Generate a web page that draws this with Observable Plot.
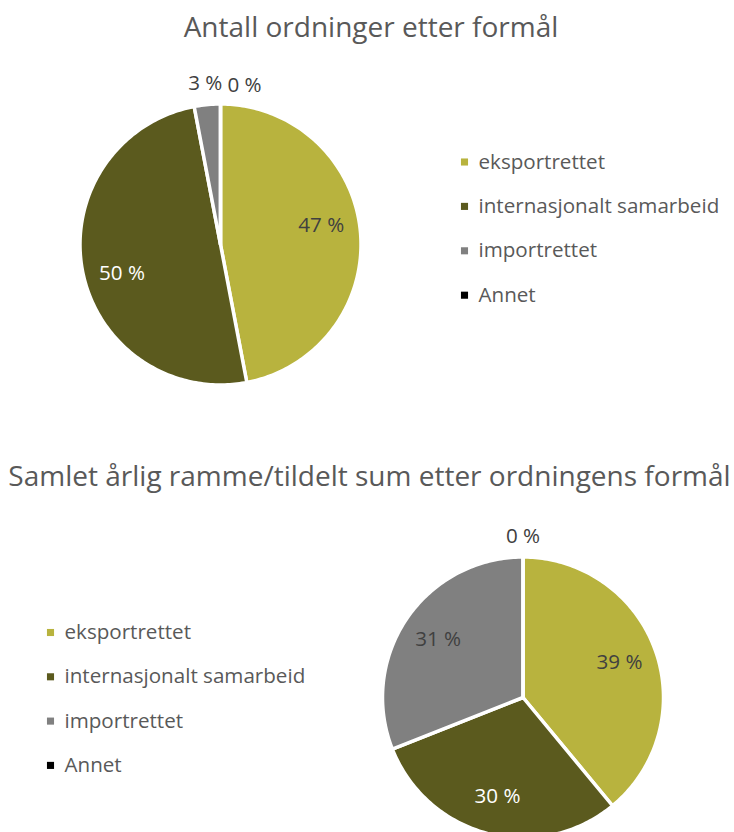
<!DOCTYPE html>
<html>
<head>
<meta charset="utf-8">
<script src="https://cdn.jsdelivr.net/npm/d3@7"></script>
<script src="https://cdn.jsdelivr.net/npm/@observablehq/plot@0.6"></script>
<style>
  html, body { margin: 0; padding: 0; background: #fff; }
  #page { position: relative; width: 734px; height: 832px; overflow: hidden; font-family: "Open Sans", sans-serif; }
  .title { position: absolute; left: 0; width: 734px; text-align: center; font-size: 28px; line-height: 1; color: #595959; white-space: nowrap; }
  .fig { position: absolute; left: 0; }
  .fig svg { display: block; }
</style>
</head>
<body>
<div id="page"></div>
<script>
// ---- data ----
const categories = ["eksportrettet", "internasjonalt samarbeid", "importrettet", "Annet"];
const antallShares = [47, 50, 3, 0];      // Antall ordninger etter formål (%)
const rammeShares = [39, 30, 31, 0];      // Samlet årlig ramme/tildelt sum (%)
const sliceColors = ["#B8B33E", "#5B5A1E", "#808080", "#000000"];
const chartTitles = [
  "Antall ordninger etter formål",
  "Samlet årlig ramme/tildelt sum etter ordningens formål"
];

const page = document.getElementById("page");

function addTitle(text, top, left) {
  const d = document.createElement("div");
  d.className = "title";
  d.textContent = text;
  d.style.top = top + "px";
  d.style.left = left + "px";
  page.appendChild(d);
}

function pieFigure(values, cfg) {
  const {W, H, cx, cy, r, legendX, legendY0, legendStep, angleShift, nudge} = cfg;
  const rows = categories.map((c, i) => ({cat: c, value: values[i]}));
  const arcs = d3.pie().sort(null).value(d => d.value)(rows);

  // slice outlines (center -> arc -> center), derived from the pie angles
  const poly = arcs.flatMap(a => {
    const span = a.endAngle - a.startAngle;
    const n = Math.max(1, Math.ceil(span / (Math.PI / 180)));
    const pts = [{cat: a.data.cat, x: cx, y: cy}];
    for (let k = 0; k <= n; k++) {
      const t = a.startAngle + span * k / n;
      pts.push({cat: a.data.cat, x: cx + r * Math.sin(t), y: cy - r * Math.cos(t)});
    }
    pts.push({cat: a.data.cat, x: cx, y: cy});
    return pts;
  });

  const labels = arcs.map((a, i) => {
    const pct = a.data.value;
    const inside = pct >= 5;
    const mid = (a.startAngle + a.endAngle) / 2 + (inside ? angleShift : 0);
    const dist = inside ? 0.73 * r : r + 21;
    const dark = d3.lab(sliceColors[i]).l < 50;
    return {
      cat: a.data.cat,
      x: cx + dist * Math.sin(mid),
      y: cy - dist * Math.cos(mid),
      text: `${Math.round(pct)} %`,
      inside,
      light: inside && dark
    };
  });

  const legend = categories.map((c, i) => ({cat: c, x: legendX, y: legendY0 + i * legendStep}));
  const fs = 20.6;

  return Plot.plot({
    width: W,
    height: H,
    margin: 0,
    x: {domain: [0, W], range: [0, W], axis: null},
    y: {domain: [0, H], range: [0, H], axis: null},
    color: {domain: categories, range: sliceColors},
    style: {fontFamily: "'Open Sans', sans-serif", fontSize: "20px", background: "white", overflow: "visible"},
    marks: [
      Plot.line(poly, {x: "x", y: "y", z: "cat", fill: "cat", stroke: "white", strokeWidth: 3.5, strokeLinejoin: "round"}),
      Plot.text(labels, {filter: d => d.inside && !d.light, x: "x", y: "y", text: "text", fill: "#404040", fontSize: fs}),
      Plot.text(labels, {filter: d => d.light, x: "x", y: "y", text: "text", fill: "white", fontSize: fs}),
      Plot.text(labels, {filter: d => !d.inside && !(nudge && d.cat === nudge.cat), x: "x", y: "y", text: "text", fill: "#404040", fontSize: fs}),
      nudge ? Plot.text(labels, {filter: d => d.cat === nudge.cat, x: "x", y: "y", dx: nudge.dx, dy: nudge.dy, text: "text", fill: "#404040", fontSize: fs}) : null,
      Plot.dot(legend, {x: "x", y: "y", fill: "cat", symbol: "square", r: 4}),
      Plot.text(legend, {x: "x", y: "y", text: "cat", dx: 14, textAnchor: "start", fill: "#595959", fontSize: fs})
    ]
  });
}

// ---- chart 1 ----
addTitle(chartTitles[0], 11.5, 4);
const f1 = document.createElement("div");
f1.className = "fig"; f1.style.top = "50px";
f1.appendChild(pieFigure(antallShares, {
  W: 734, H: 400, cx: 220, cy: 194, r: 140.5,
  legendX: 464, legendY0: 111.5, legendStep: 44.4,
  angleShift: -5.5 * Math.PI / 180,
  nudge: {cat: "Annet", dx: 24, dy: 2}
}));
page.appendChild(f1);

// ---- chart 2 ----
addTitle(chartTitles[1], 461, 2.5);
const f2 = document.createElement("div");
f2.className = "fig"; f2.style.top = "500px";
f2.appendChild(pieFigure(rammeShares, {
  W: 734, H: 332, cx: 522.5, cy: 197, r: 140.5,
  legendX: 50, legendY0: 132, legendStep: 44.3,
  angleShift: 0,
  nudge: null
}));
page.appendChild(f2);
</script>
</body>
</html>
